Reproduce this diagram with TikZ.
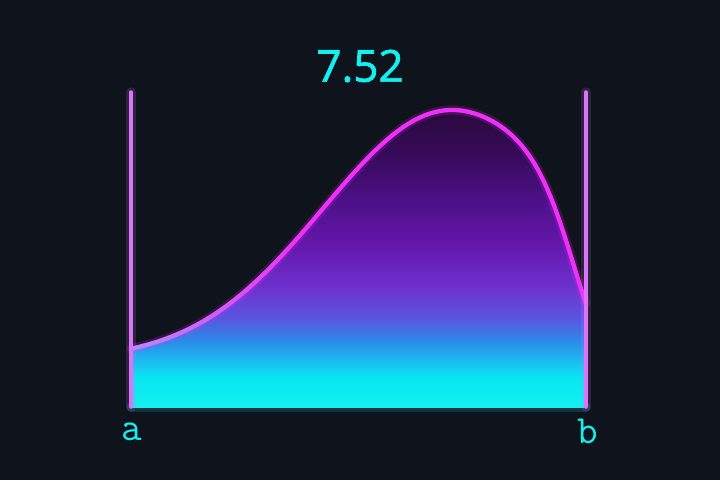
\documentclass[tikz,border=0pt]{standalone}
\usepackage{fontspec}
\setsansfont{Open Sans}
\usetikzlibrary{calc, fadings}
\definecolor{bgdark}{HTML}{0F131C}
\definecolor{neoncyan}{HTML}{12F0F0}
\definecolor{neonpink}{HTML}{F030F8}
\definecolor{wallviolet}{HTML}{DC74FA}
\definecolor{lavender}{HTML}{B48CFF}
\definecolor{fillcyan}{HTML}{08E6F2}
\definecolor{fillsky}{HTML}{1EB8F0}
\definecolor{fillblue}{HTML}{2A8CE8}
\definecolor{fillindigo}{HTML}{5A55E0}
\definecolor{fillviolet}{HTML}{6E32CE}
\definecolor{fillpurple}{HTML}{6418AC}
\definecolor{fillplum}{HTML}{4C1086}
\definecolor{filldeep}{HTML}{360A58}
\definecolor{filltop}{HTML}{2A0A3C}
% stops sit between 25bp and 75bp, the part that TikZ fits to the path
\pgfdeclareverticalshading{areafill}{100bp}{%
  color(0bp)=(neoncyan);
  color(25bp)=(neoncyan);
  color(30bp)=(fillcyan);
  color(33bp)=(fillsky);
  color(36bp)=(fillblue);
  color(40bp)=(fillindigo);
  color(45bp)=(fillviolet);
  color(52bp)=(fillpurple);
  color(60bp)=(fillplum);
  color(68bp)=(filldeep);
  color(75bp)=(filltop);
  color(100bp)=(filltop)}
% the two halves of the curve, x in 0..1
\pgfmathdeclarefunction{riseup}{1}{\pgfmathparse{120+250*exp(-(#1-0.705)*(#1-0.705)/0.16)}}
\pgfmathdeclarefunction{falloff}{1}{\pgfmathparse{120+250*exp(-((#1-0.705)/0.42)^2-((#1-0.705)/0.295)^6)}}

\begin{document}
\begin{tikzpicture}[x=0.75pt, y=0.75pt,
    wall/.style={wallviolet, line width=2.6pt, line cap=round},
    glow/.style={line width=7pt, opacity=0.16, line cap=round},
    curveline/.style={neonpink, line width=3.2pt, line cap=round},
    lbl/.style={text=neoncyan, font=\ttfamily\addfontfeatures{FakeBold=2.2}\fontsize{30}{30}\selectfont}]
  % background and frame
  \fill[bgdark] (0,0) rectangle (720,480);
  \useasboundingbox (0,0) rectangle (720,480);

  \coordinate (atop) at (131,388);
  \coordinate (abot) at (131,73);
  \coordinate (btop) at (586,388);
  \coordinate (bbot) at (586,73);

  % area under the curve
  \shade[shading=areafill] (abot)
    -- plot[domain=0:0.705, samples=60] ({131+455*\x}, {riseup(\x)})
    -- plot[domain=0.705:1, samples=40] ({131+455*\x}, {falloff(\x)})
    -- (bbot) -- cycle;

  % baseline
  \draw[neoncyan, glow] (abot) -- (bbot);
  \draw[neoncyan, line width=2.2pt] (abot) -- (bbot);

  % curve
  \draw[neonpink, glow] plot[domain=0:0.705, samples=60] ({131+455*\x}, {riseup(\x)})
    -- plot[domain=0.705:1, samples=40] ({131+455*\x}, {falloff(\x)});
  \draw[curveline] plot[domain=0:0.705, samples=60] ({131+455*\x}, {riseup(\x)})
    -- plot[domain=0.705:1, samples=40] ({131+455*\x}, {falloff(\x)});
  \draw[lavender, line width=3.2pt, line cap=round, path fading=east]
    plot[domain=0:0.36, samples=30] ({131+455*\x}, {riseup(\x)});

  % walls
  \draw[wallviolet, glow] (abot) -- (atop);
  \draw[wallviolet, glow] (bbot) -- (btop);
  \draw[wall] (abot) -- (atop);
  \draw[wall] (bbot) -- (btop);

  % labels
  \node[lbl] (a) at (132,48) {a};
  \node[lbl] (b) at (588,49) {b};
  \node[text=neoncyan, font=\sffamily\addfontfeatures{FakeBold=1.6}\fontsize{33}{33}\selectfont] (val) at (360,414) {7.52};
\end{tikzpicture}
\end{document}
